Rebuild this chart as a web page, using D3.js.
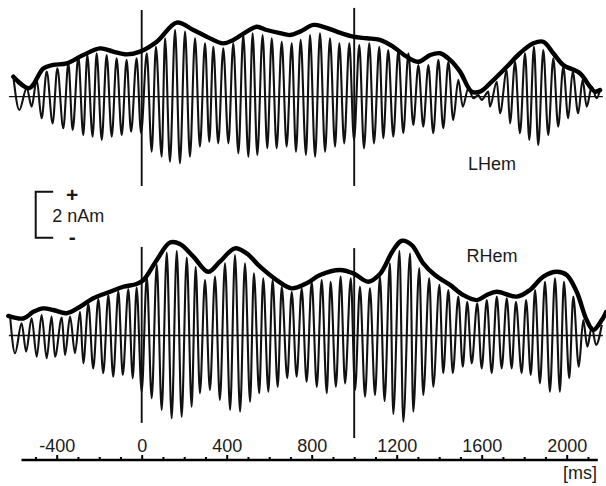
<!DOCTYPE html>
<html lang="en">
<head>
	<meta charset="utf-8">
	<title>LHem / RHem</title>
	<script src="https://d3js.org/d3.v7.min.js"></script>
	<style type="text/css">
		body { margin: 0; background: #fff; }
		svg text { font-family: "Liberation Sans", Arial, Helvetica, sans-serif; fill: #1a1a1a; }
	</style>
</head>
<body>
<script type="text/javascript">
	// left hemisphere: peaks and troughs of the oscillation (ms, nAm)
	var lhemPeakT = [-604,-541,-494,-447,-397,-345,-298,-256,-212,-165,-118,-71,-24,24,67,110,157,204,251,298,337,384,431,478,522,569,612,659,706,748,792,839,886,930,977,1024,1071,1118,1160,1208,1255,1302,1349,1396,1443,1490,1537,1584,1631,1671,1718,1757,1804,1846,1890,1937,1984,2028,2075,2118,2157]
	var lhemPeakV = [0.87,0.38,0.73,1.09,1.23,1.45,1.74,1.81,1.89,1.81,1.67,1.60,1.67,1.89,2.17,2.54,2.90,2.83,2.54,2.32,2.17,2.10,2.32,2.68,2.76,2.68,2.54,2.39,2.32,2.47,2.68,2.76,2.54,2.32,2.32,2.25,2.32,2.17,2.03,2.03,1.89,1.38,1.38,1.60,1.52,0.73,0.37,0.07,0.22,0.65,1.16,1.52,1.89,2.17,2.03,1.67,1.30,1.09,0.73,0.43,0.29]
	var lhemTroughT = [-576,-518,-471,-419,-369,-325,-275,-231,-188,-141,-94,-50,-3,47,94,133,180,227,274,318,360,408,455,502,544,591,635,682,726,773,816,863,910,953,999,1046,1093,1137,1184,1231,1278,1325,1372,1419,1466,1511,1561,1600,1639,1686,1733,1780,1824,1866,1913,1960,2007,2054,2094,2141]
	var lhemTroughV = [-0.58,-0.43,-0.94,-1.16,-1.37,-1.45,-1.67,-1.74,-1.88,-1.74,-1.67,-1.52,-1.59,-2.39,-2.61,-2.83,-2.90,-2.61,-2.17,-1.96,-2.03,-2.03,-2.46,-2.61,-2.53,-2.24,-2.24,-2.17,-2.39,-2.53,-2.61,-2.39,-2.17,-2.03,-1.88,-2.24,-2.03,-1.81,-1.74,-1.59,-1.23,-1.30,-1.59,-1.37,-1.01,-0.43,-0.07,-0.14,-0.43,-0.72,-1.16,-1.59,-1.88,-2.10,-1.67,-1.30,-0.94,-0.72,-0.43,-0.07]
	// left hemisphere: amplitude envelope
	var lhemEnvT = [-604,-529,-463,-416,-353,-275,-196,-134,-71,-8,71,165,243,306,384,431,494,541,588,651,698,745,808,855,918,996,1059,1121,1184,1247,1302,1357,1404,1451,1498,1553,1592,1639,1718,1780,1843,1890,1937,1984,2062,2110,2133,2157]
	var lhemEnvV = [0.87,0.37,1.23,1.38,1.45,1.81,2.10,1.96,1.84,1.96,2.39,3.22,2.90,2.61,2.32,2.47,2.83,3.04,2.90,2.76,2.68,2.83,3.12,3.04,2.83,2.61,2.54,2.47,2.17,1.74,1.52,1.81,1.89,1.60,1.09,0.22,0.22,0.58,1.30,1.89,2.32,2.39,1.89,1.38,1.02,0.43,0.22,0.29]

	// right hemisphere
	var rhemPeakT = [-620,-565,-518,-471,-424,-376,-337,-290,-251,-204,-157,-110,-63,-24,24,71,118,165,212,254,298,345,392,439,486,528,572,616,659,706,753,800,847,889,936,984,1027,1074,1121,1168,1213,1263,1306,1353,1401,1443,1490,1532,1579,1624,1671,1718,1761,1809,1851,1898,1945,1987,2031,2078,2118,2165]
	var rhemPeakV = [0.89,0.53,0.75,0.89,0.82,0.78,0.82,1.03,1.37,1.59,1.76,1.93,2.02,2.09,2.56,3.07,3.61,3.67,3.39,2.98,2.41,2.56,3.14,3.50,3.14,2.70,2.49,2.41,2.12,1.90,2.05,2.34,2.41,2.34,2.56,2.49,2.12,2.05,2.56,3.14,3.67,3.57,2.92,2.49,2.20,1.98,1.69,1.47,1.40,1.54,1.69,1.62,1.47,1.54,1.98,2.34,2.49,2.34,1.69,0.67,0.38,0.46]
	var rhemTroughT = [-596,-544,-494,-447,-408,-361,-314,-275,-228,-181,-134,-89,-42,0,47,94,141,188,235,274,321,368,416,463,510,553,596,640,685,729,776,824,871,914,957,1004,1051,1098,1143,1184,1231,1278,1325,1372,1419,1464,1511,1553,1600,1647,1694,1741,1788,1831,1874,1921,1968,2012,2057,2097,2138]
	var rhemTroughV = [-0.77,-0.70,-0.92,-0.99,-0.92,-0.85,-0.77,-1.21,-1.43,-1.64,-1.79,-1.72,-1.86,-2.44,-2.73,-3.24,-3.60,-3.54,-3.10,-2.51,-2.37,-2.80,-3.24,-3.31,-2.88,-2.51,-2.44,-2.23,-1.86,-1.79,-2.01,-2.23,-2.51,-2.23,-2.08,-2.37,-2.66,-2.59,-2.85,-3.41,-3.75,-3.31,-2.59,-2.23,-1.64,-1.64,-1.36,-1.21,-1.43,-1.64,-1.43,-1.43,-1.64,-1.72,-2.08,-2.44,-2.44,-1.86,-1.36,-0.49,-0.41]
	var rhemEnvT = [-628,-557,-510,-463,-416,-353,-290,-228,-149,-87,-24,8,71,133,180,243,313,368,439,494,557,635,706,776,839,933,996,1066,1121,1184,1224,1271,1325,1380,1451,1513,1577,1624,1671,1765,1827,1890,1953,2000,2047,2094,2125,2165,2185]
	var rhemEnvV = [0.85,0.74,1.03,1.18,1.11,0.97,1.25,1.62,1.90,2.12,2.24,2.41,3.28,4.04,3.98,3.43,2.77,3.21,3.79,3.57,2.99,2.41,2.05,2.27,2.63,2.85,2.70,2.34,2.67,3.72,4.12,3.93,3.14,2.63,2.20,1.76,1.54,1.76,1.90,1.69,1.98,2.56,2.77,2.63,1.90,0.67,0.24,0.67,1.02]

	// stimulus markers (ms) and how far each line runs (nAm)
	var markerMs = [0, 1000]
	var markerTopL = [3.77, 3.86]
	var markerBotL = [-3.88, -3.88]
	var markerTopR = [3.85, 3.80]
	var markerBotR = [-3.80, -4.46]

	// time axis
	var axisStart = -568, axisEnd = 2144
	var tickMs = [-400, 0, 400, 800, 1200, 1600, 2000]
	var minorMs = [-500, -300, -200, -100, 100, 200, 300, 500, 600, 700, 900, 1000, 1100, 1300, 1400, 1500, 1700, 1800, 1900, 2100]
	var baseStart = -625, baseEnd = 2170
	var scaleBarNAm = 2

	var w = 606, h = 486

	var svg = d3.select("body").append("svg")
		.attr("width", w)
		.attr("height", h)

	// x: 0 ms sits at 141.7px, 1000 ms at 354.2px
	var xScale = d3.scaleLinear().domain([-600, 2200]).range([14.2, 609.2])
	// y: one scale per hemisphere, 23px per nAm
	var yL = d3.scaleLinear().domain([-4, 4]).range([96.7 + 92, 96.7 - 92])
	var yR = d3.scaleLinear().domain([-4, 4]).range([335.5 + 92, 335.5 - 92])

	function merge(pt, pv, tt, tv) {
		var a = pt.map((t, i) => ({t: t, v: pv[i]}))
			.concat(tt.map((t, i) => ({t: t, v: tv[i]})))
		return a.sort((p, q) => p.t - q.t)
	}
	function zip(t, v) { return t.map((d, i) => ({t: d, v: v[i]})) }

	function drawPanel(y, wave, env, mTop, mBot) {
		var g = svg.append("g")

		// zero line
		g.append("line")
			.attr("x1", xScale(baseStart)).attr("x2", xScale(baseEnd))
			.attr("y1", y(0)).attr("y2", y(0))
			.attr("stroke", "#111").attr("stroke-width", 1.3)

		// oscillation
		var waveLine = d3.line()
			.x(d => xScale(d.t))
			.y(d => y(d.v))
			.curve(d3.curveMonotoneX)
		g.append("path")
			.attr("d", waveLine(wave))
			.attr("fill", "none")
			.attr("stroke", "#111")
			.attr("stroke-width", 2.1)

		// markers at 0 and 1000 ms
		g.selectAll(".marker")
			.data(markerMs)
			.enter()
			.append("line")
			.attr("x1", d => xScale(d)).attr("x2", d => xScale(d))
			.attr("y1", (d, i) => y(mTop[i])).attr("y2", (d, i) => y(mBot[i]))
			.attr("stroke", "#111").attr("stroke-width", 1.9)

		// envelope
		var envLine = d3.line()
			.x(d => xScale(d.t))
			.y(d => y(d.v))
			.curve(d3.curveCatmullRom)
		g.append("path")
			.attr("d", envLine(env))
			.attr("fill", "none")
			.attr("stroke", "#000")
			.attr("stroke-width", 4.4)
			.attr("stroke-linejoin", "round")
			.attr("stroke-linecap", "round")
	}

	drawPanel(yL, merge(lhemPeakT, lhemPeakV, lhemTroughT, lhemTroughV), zip(lhemEnvT, lhemEnvV), markerTopL, markerBotL)
	drawPanel(yR, merge(rhemPeakT, rhemPeakV, rhemTroughT, rhemTroughV), zip(rhemEnvT, rhemEnvV), markerTopR, markerBotR)

	// hemisphere labels
	svg.append("text")
		.attr("x", 492).attr("y", 170)
		.attr("text-anchor", "middle")
		.style("font-size", "18px")
		.text("LHem")
	svg.append("text")
		.attr("x", 492).attr("y", 262)
		.attr("text-anchor", "middle")
		.style("font-size", "18px")
		.text("RHem")

	// scale bar (2 nAm)
	var barH = yL(0) - yL(scaleBarNAm)
	var bar = svg.append("g").attr("transform", "translate(35.7,191.7)")
	bar.append("path")
		.attr("d", "M17.5,0H0V" + barH + "H17.5")
		.attr("fill", "none")
		.attr("stroke", "#111")
		.attr("stroke-width", 2)
	bar.append("text")
		.attr("x", 16.5).attr("y", 30)
		.style("font-size", "18px")
		.text(scaleBarNAm + " nAm")
	bar.append("text")
		.attr("x", 36.5).attr("y", 10)
		.attr("text-anchor", "middle")
		.style("font-size", "21px")
		.style("font-weight", "bold")
		.text("+")
	bar.append("text")
		.attr("x", 36.5).attr("y", barH + 6)
		.attr("text-anchor", "middle")
		.style("font-size", "21px")
		.style("font-weight", "bold")
		.text("-")

	// time axis, ticks pointing up
	var axisScale = d3.scaleLinear()
		.domain([axisStart, axisEnd])
		.range([xScale(axisStart), xScale(axisEnd)])
	var axisY = 459.5

	var xAxis = d3.axisTop(axisScale)
		.tickValues(tickMs)
		.tickFormat(d => String(d))
		.tickSize(4.5)
		.tickSizeOuter(0)
		.tickPadding(3.5)
	var gx = svg.append("g")
		.attr("transform", "translate(0," + axisY + ")")
		.call(xAxis)
	gx.select(".domain").attr("stroke", "#000").attr("stroke-width", 2.6)
	gx.selectAll(".tick line").attr("stroke", "#000").attr("stroke-width", 2)
	gx.selectAll(".tick text")
		.attr("fill", "#1a1a1a")
		.style("font-size", "18px")
		.style("font-family", "'Liberation Sans', Arial, Helvetica, sans-serif")

	var minorAxis = d3.axisTop(axisScale)
		.tickValues(minorMs)
		.tickSize(2.5)
		.tickSizeOuter(0)
		.tickFormat("")
	var gm = svg.append("g")
		.attr("transform", "translate(0," + axisY + ")")
		.call(minorAxis)
	gm.select(".domain").remove()
	gm.selectAll(".tick line").attr("stroke", "#000").attr("stroke-width", 2)

	svg.append("text")
		.attr("x", 597).attr("y", 479)
		.attr("text-anchor", "end")
		.style("font-size", "18px")
		.text("[ms]")
</script>
</body>
</html>
